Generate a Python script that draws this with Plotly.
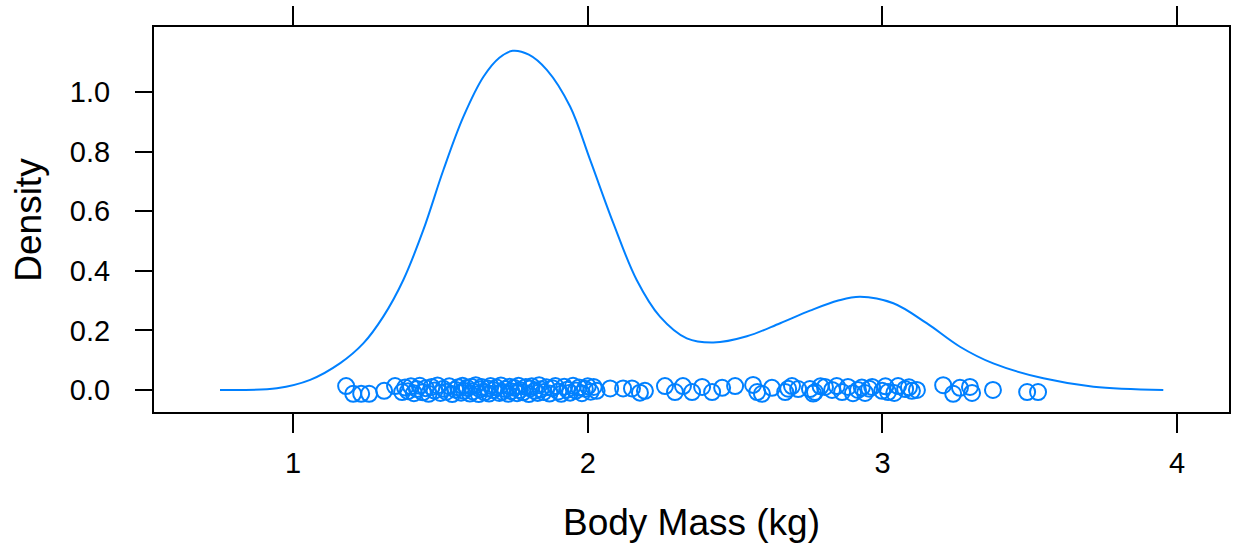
import plotly.graph_objects as go

# density curve (kg, density)
curve_x = [0.752, 0.945, 1.058, 1.16, 1.239, 1.306, 1.374, 1.442, 1.51, 1.578, 1.646,
           1.70, 1.745, 1.80, 1.861, 1.94, 2.008, 2.087, 2.166, 2.245, 2.336, 2.426,
           2.54, 2.653, 2.754, 2.85, 2.924, 3.037, 3.15, 3.263, 3.376, 3.546, 3.716, 3.953]
curve_y = [0.0, 0.006, 0.034, 0.09, 0.157, 0.246, 0.369, 0.537, 0.738, 0.917, 1.051,
           1.115, 1.138, 1.125, 1.074, 0.951, 0.772, 0.559, 0.369, 0.246, 0.173, 0.159,
           0.180, 0.224, 0.266, 0.300, 0.313, 0.291, 0.224, 0.145, 0.089, 0.039, 0.011, 0.0]

# observations (kg) with their vertical jitter
mass = [1.180, 1.204, 1.231, 1.258, 1.309, 1.346, 1.370,
        1.38, 1.39, 1.40, 1.41, 1.42, 1.43, 1.44, 1.45, 1.46, 1.47, 1.48, 1.49, 1.50,
        1.51, 1.52, 1.53, 1.54, 1.55, 1.56, 1.57, 1.575, 1.58, 1.59, 1.60, 1.605, 1.61,
        1.62, 1.63, 1.635, 1.64, 1.65, 1.66, 1.665, 1.67, 1.68, 1.69, 1.70, 1.705, 1.71,
        1.72, 1.73, 1.735, 1.74, 1.75, 1.76, 1.765, 1.77, 1.78, 1.79, 1.80, 1.805, 1.81,
        1.82, 1.83, 1.835, 1.84, 1.85, 1.86, 1.87, 1.88, 1.89, 1.90, 1.91, 1.92, 1.93,
        1.94, 1.95, 1.96, 1.97, 1.98, 1.99, 2.00, 2.01, 2.02, 2.03,
        2.076, 2.120, 2.150, 2.177, 2.194, 2.262, 2.296, 2.323, 2.354, 2.388, 2.422,
        2.456, 2.500, 2.561, 2.575, 2.591, 2.625, 2.670, 2.680, 2.693, 2.714, 2.754,
        2.765, 2.771, 2.790, 2.805, 2.829, 2.845, 2.863, 2.883, 2.900, 2.917, 2.930,
        2.941, 2.955, 2.965, 2.999, 3.010, 3.019, 3.040, 3.053, 3.077, 3.090, 3.100,
        3.117, 3.206, 3.240, 3.263, 3.297, 3.304, 3.375, 3.491, 3.528]
jitter = [0.013, -0.013, -0.013, -0.013, -0.003, 0.013, -0.007,
          0.008, -0.004, 0.012, -0.011, 0.003, 0.014, -0.008, 0.006, -0.013, 0.010, -0.002,
          0.015, -0.010, 0.004, -0.006, 0.012, -0.014, 0.001, 0.009, -0.009, 0.014, -0.003,
          0.007, -0.012, 0.011, -0.005, 0.016, -0.014, 0.002, 0.010, -0.008, 0.005, -0.012,
          0.013, -0.001, 0.008, -0.010, 0.015, -0.006, 0.003, -0.013, 0.011, -0.004, 0.007,
          -0.011, 0.014, 0.000, -0.008, 0.010, -0.014, 0.005, 0.012, -0.003, -0.010, 0.016,
          0.002, -0.007, 0.009, -0.012, 0.006, 0.013, -0.005, -0.013, 0.011, 0.001, -0.009,
          0.014, -0.002, 0.008, -0.011, 0.004, 0.012, -0.006, 0.010, -0.003,
          0.005, 0.005, 0.005, -0.009, -0.003, 0.013, -0.007, 0.013, -0.007, 0.010, -0.007,
          0.007, 0.013, 0.017, -0.007, -0.013, 0.007, -0.007, 0.004, 0.013, 0.003, 0.003,
          -0.012, -0.007, 0.012, 0.010, 0.000, 0.013, -0.007, 0.010, -0.011, 0.000, 0.008,
          -0.010, 0.004, 0.010, -0.003, 0.012, -0.007, -0.010, 0.013, 0.003, 0.009, -0.003,
          0.000, 0.016, -0.013, 0.007, 0.010, -0.010, 0.000, -0.007, -0.007]

x_ticks = [1, 2, 3, 4]
y_ticks = [0.0, 0.2, 0.4, 0.6, 0.8, 1.0]
y_labels = ["0.0", "0.2", "0.4", "0.6", "0.8", "1.0"]

blue = "#0080ff"
font = "Liberation Sans"

fig = go.Figure()
fig.add_trace(go.Scatter(x=curve_x, y=curve_y, mode="lines", line_shape="spline",
                         line=dict(color=blue, width=2), hoverinfo="skip"))
fig.add_trace(go.Scatter(x=mass, y=jitter, mode="markers",
                         marker=dict(symbol="circle-open", size=16, color=blue,
                                     line=dict(width=2, color=blue))))

fig.update_xaxes(range=[0.528, 4.176], tickvals=x_ticks, ticks="outside", ticklen=19,
                 tickwidth=2, tickcolor="black", showline=True, linecolor="black",
                 linewidth=2, mirror="allticks", showgrid=False, zeroline=False,
                 automargin=False, ticklabelstandoff=5,
                 tickfont=dict(size=29, color="black", family=font))
fig.update_yaxes(range=[-0.074, 1.218], tickvals=y_ticks, ticktext=y_labels,
                 ticks="outside", ticklen=17, tickwidth=2, tickcolor="black",
                 showline=True, linecolor="black", linewidth=2, mirror=True,
                 showgrid=False, zeroline=False, automargin=False, ticklabelstandoff=19,
                 tickfont=dict(size=29, color="black", family=font))

fig.add_annotation(text="Body Mass (kg)", xref="paper", yref="paper", x=0.5, y=-0.288,
                   xanchor="center", yanchor="middle", showarrow=False,
                   font=dict(size=37, color="black", family=font))
fig.add_annotation(text="Density", xref="paper", yref="paper", x=-0.117, y=0.5,
                   xanchor="center", yanchor="middle", textangle=-90, showarrow=False,
                   font=dict(size=37, color="black", family=font))

fig.update_layout(width=1242, height=544, showlegend=False,
                  margin=dict(l=154, r=13, t=27, b=132),
                  plot_bgcolor="white", paper_bgcolor="white")

fig.write_html("out.html", config={"displayModeBar": False},
               post_script="document.body.style.margin='0';")
